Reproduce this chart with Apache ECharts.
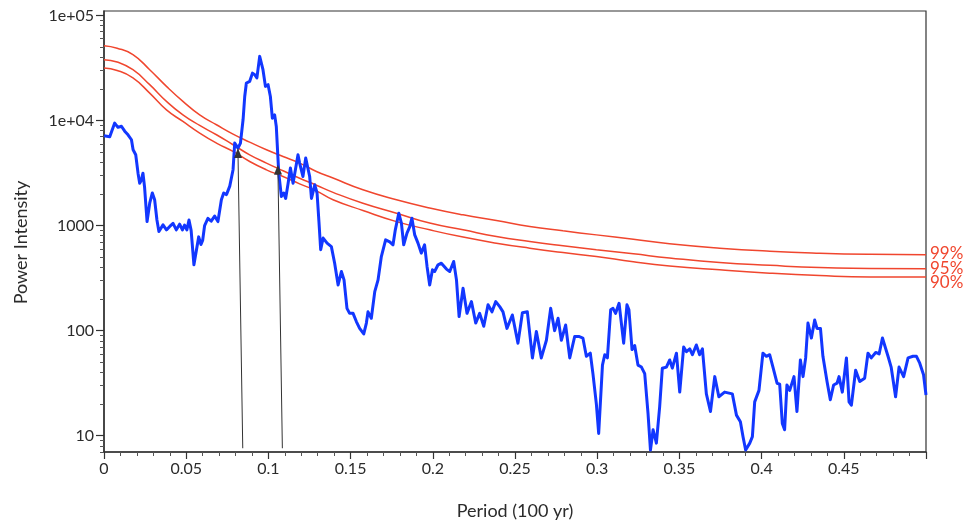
<!DOCTYPE html>
<html>
<head>
<meta charset="utf-8">
<title>Power spectrum</title>
<script src="https://cdn.jsdelivr.net/npm/echarts@6/dist/echarts.min.js"></script>
<style>
  html, body { margin: 0; padding: 0; background: #fff; }
  #chart { width: 966px; height: 529px; }
</style>
</head>
<body>
<div id="chart"></div>
<script>
// spectrum (blue line), x = period axis value, y = power
const freq = [
  0, 0.0035, 0.0065, 0.0085, 0.0106, 0.0126, 0.0146, 0.0167, 0.0177, 0.0193,
  0.0207, 0.0217, 0.0227, 0.0237, 0.0247, 0.0262, 0.0278, 0.0294, 0.0308, 0.0322,
  0.0334, 0.0359, 0.038, 0.040, 0.042, 0.044, 0.046, 0.0477, 0.049, 0.0504,
  0.0517, 0.053, 0.0547, 0.0576, 0.059, 0.060, 0.0612, 0.0632, 0.0652, 0.0673,
  0.0693, 0.0714, 0.0728, 0.0745, 0.0765, 0.0785, 0.0795, 0.0815, 0.083, 0.0846,
  0.0856, 0.0866, 0.0886, 0.0903, 0.0917, 0.093, 0.0947, 0.0953, 0.0967, 0.0982,
  0.0998, 0.1012, 0.1024, 0.1038, 0.1048, 0.1063, 0.1079, 0.1093, 0.1105, 0.112,
  0.1134, 0.115, 0.116, 0.118, 0.119, 0.121, 0.1227, 0.1235, 0.1251, 0.1262,
  0.1282, 0.1296, 0.1308, 0.1318, 0.1333, 0.1357, 0.1383, 0.1403, 0.1424, 0.1444,
  0.146, 0.1478, 0.1494, 0.1515, 0.1535, 0.1555, 0.158, 0.1596, 0.1606, 0.1626,
  0.1647, 0.1667, 0.1687, 0.1713, 0.1738, 0.1758, 0.1772, 0.1793, 0.1809, 0.1823,
  0.1843, 0.186, 0.1873, 0.189, 0.191, 0.193, 0.195, 0.1965, 0.1981, 0.1998,
  0.2011, 0.2032, 0.2052, 0.2083, 0.2103, 0.2127, 0.2144, 0.216, 0.2184, 0.2208,
  0.2235, 0.2261, 0.2285, 0.231, 0.2336, 0.236, 0.2383, 0.2407, 0.2427, 0.2451,
  0.2484, 0.2518, 0.2545, 0.2575, 0.2606, 0.263, 0.266, 0.2691, 0.2717, 0.2741,
  0.2762, 0.2782, 0.2808, 0.2833, 0.2863, 0.2888, 0.2913, 0.2934, 0.2958, 0.2974,
  0.2995, 0.3009, 0.3032, 0.3046, 0.3062, 0.3082, 0.3096, 0.3112, 0.3133, 0.3161,
  0.3181, 0.3193, 0.3212, 0.3228, 0.3248, 0.3269, 0.3289, 0.3309, 0.3324, 0.334,
  0.336, 0.338, 0.3396, 0.3421, 0.3441, 0.3457, 0.3482, 0.3502, 0.3526, 0.3543,
  0.3563, 0.3579, 0.3603, 0.3623, 0.364, 0.3664, 0.3689, 0.3715, 0.374, 0.3775,
  0.3822, 0.3847, 0.3871, 0.3887, 0.3903, 0.3928, 0.3944, 0.3958, 0.3984, 0.4008,
  0.4029, 0.4049, 0.4069, 0.4094, 0.411, 0.4126, 0.414, 0.4154, 0.4171, 0.4197,
  0.4215, 0.4236, 0.4252, 0.4268, 0.4282, 0.4303, 0.4323, 0.4337, 0.4358, 0.4373,
  0.4398, 0.4418, 0.4438, 0.4459, 0.4471, 0.4491, 0.4516, 0.4532, 0.4546, 0.4572,
  0.4597, 0.4627, 0.4647, 0.4667, 0.4694, 0.4715, 0.4735, 0.4769, 0.4788, 0.4815,
  0.4836, 0.4864, 0.4891, 0.4921, 0.4942, 0.4962, 0.4985, 0.5
];
const power = [
  7150, 7000, 9440, 8600, 8800, 7900, 7300, 6550, 5260, 4710,
  3150, 2530, 2700, 3150, 2300, 1090, 1630, 2040, 1760, 1130,
  877, 1015, 910, 980, 1050, 910, 1030, 910, 1010, 910,
  1130, 900, 423, 780, 660, 720, 1000, 1170, 1100, 1230,
  1090, 1760, 2040, 1970, 2370, 3400, 6090, 5450, 6090, 10200,
  16900, 22700, 23500, 28200, 27200, 25400, 40700, 42300, 30400, 21100,
  21900, 16900, 10500, 11300, 8770, 3150, 1890, 2040, 1810, 2530,
  3520, 2530, 2440, 4710, 3930, 2930, 4390, 4550, 2930, 1810,
  2440, 2040, 1055, 588, 760, 680, 630, 438, 272, 365,
  304, 163, 146, 146, 122, 105, 93, 118, 151, 131,
  235, 304, 507, 730, 700, 655, 910, 1310, 1055, 655,
  847, 977, 1175, 814, 680, 546, 655, 408, 272, 379,
  365, 423, 438, 385, 365, 455, 304, 136, 253, 146,
  189, 118, 146, 110, 176, 151, 189, 169, 151, 105,
  141, 76, 148, 151, 55, 98, 55, 81, 163, 100,
  131, 81, 113, 55, 88, 88, 85, 57, 61, 39,
  20, 10.5, 47, 59, 55, 158, 163, 146, 182, 76,
  176, 158, 66, 72, 47, 45, 39, 16.4, 7.3, 11.4,
  8.5, 18.9, 43.8, 45, 52.6, 44, 61, 26, 70, 63,
  67, 59, 73, 59, 67, 25, 17, 36.5, 23.5, 26,
  25, 15.7, 13.6, 9.8, 7.3, 8.5, 9.8, 21, 27, 61,
  57, 59, 45, 31.6, 31, 13.1, 11.4, 30.4, 27, 36.5,
  17, 52.6, 36.5, 55, 118, 85, 126, 105, 105, 57,
  32.8, 22, 30.4, 31.6, 36.5, 26, 55, 21, 19.5, 42,
  32.8, 35.3, 61, 55, 62, 60, 85, 57, 45, 23.5,
  45, 36.5, 55, 57, 57, 49, 38, 24.4
];

// red-noise confidence levels
const levelX = [0, 0.008, 0.0176, 0.0278, 0.038, 0.048, 0.0582, 0.0684, 0.0785, 0.0886,
  0.0988, 0.1089, 0.119, 0.1292, 0.1393, 0.1575, 0.1779, 0.1981, 0.2184, 0.2387,
  0.259, 0.2792, 0.2995, 0.322, 0.344, 0.3745, 0.405, 0.4353, 0.466, 0.5];
const level99 = [51400, 48700, 42300, 30400, 21100, 15200, 11300, 9100, 7410, 6220,
  5260, 4540, 3930, 3270, 2830, 2190, 1760, 1470, 1265, 1117,
  978, 890, 815, 740, 670, 609, 570, 546, 532, 526];
const level95 = [37900, 36000, 30400, 21900, 15200, 11300, 8960, 7310, 5870, 4710,
  3930, 3320, 2820, 2420, 2070, 1630, 1310, 1055, 910, 785,
  704, 641, 588, 538, 492, 445, 418, 398, 391, 387];
const level90 = [31600, 29900, 25400, 18200, 12600, 9780, 7580, 6090, 5070, 4070,
  3390, 2930, 2490, 2140, 1760, 1390, 1090, 910, 776, 680,
  609, 553, 507, 452, 413, 379, 352, 334, 324, 323];
const levelNames = ['99%', '95%', '90%'];

// arrows: [x from, y from, x to, y to]
const arrows = [
  [0.0844, 7.6, 0.0815, 4900],
  [0.1085, 7.6, 0.1058, 3400]
];

const yMajor = [10, 100, 1000, 10000, 100000];
const yMinor = [];
[1, 10, 100, 1000, 10000].forEach(d => {
  for (let k = 2; k <= 9; k++) yMinor.push(d * k);
});
yMinor.unshift(8, 9);

const font = 'Lato, "Open Sans", sans-serif';
const textColor = '#2b2b2b';
const redColor = '#f0462e';

const chart = echarts.init(document.getElementById('chart'));

function levelSeries(vals, name, offsetY) {
  return {
    name: name,
    type: 'line',
    data: levelX.map((x, i) => [x, vals[i]]),
    showSymbol: false,
    smooth: 0.5,
    silent: true,
    lineStyle: { color: redColor, width: 1.5 },
    endLabel: {
      show: true,
      formatter: name,
      color: redColor,
      fontFamily: font,
      fontSize: 17,
      distance: 4,
      offset: [0, offsetY]
    },
    z: 3
  };
}

const option = {
  backgroundColor: '#fff',
  animation: false,
  grid: {
    left: 104, right: 40, top: 11, bottom: 77,
    show: true, borderColor: '#333', borderWidth: 1.2
  },
  xAxis: {
    type: 'value',
    min: 0,
    max: 0.5,
    interval: 0.05,
    name: 'Period (100 yr)',
    nameLocation: 'middle',
    nameGap: 50,
    nameTextStyle: { fontFamily: font, fontSize: 18, color: textColor },
    axisLine: { lineStyle: { color: '#333', width: 1.5 } },
    axisTick: { length: 7, lineStyle: { color: '#333', width: 1.2 } },
    minorTick: { show: true, splitNumber: 5, length: 4, lineStyle: { color: '#555', width: 1 } },
    axisLabel: { fontFamily: font, fontSize: 16, color: textColor, margin: 9, showMaxLabel: false },
    splitLine: { show: false },
    minorSplitLine: { show: false }
  },
  yAxis: [
    {
      type: 'log',
      logBase: 10,
      min: 7,
      max: 110000,
      position: 'left',
      name: 'Power Intensity',
      nameLocation: 'middle',
      nameGap: 74,
      nameTextStyle: { fontFamily: font, fontSize: 18, color: textColor, padding: [0, 22, 0, 0] },
      axisLine: { show: true, lineStyle: { color: '#333', width: 1.5 } },
      axisTick: { show: true, length: 8, customValues: yMajor, lineStyle: { color: '#333', width: 1.2 } },
      axisLabel: {
        fontFamily: font, fontSize: 16, color: textColor, margin: 10,
        customValues: yMajor,
        formatter: v => (v >= 10000 ? '1e+0' + Math.round(Math.log10(v)) : String(Math.round(v)))
      },
      splitLine: { show: false }
    },
    {
      type: 'log',
      logBase: 10,
      min: 7,
      max: 110000,
      position: 'left',
      offset: 0,
      axisLine: { show: false },
      axisTick: { show: true, length: 4, customValues: yMinor, lineStyle: { color: '#555', width: 1 } },
      axisLabel: { show: false },
      splitLine: { show: false }
    }
  ],
  series: [
    levelSeries(level99, levelNames[0], -1),
    levelSeries(level95, levelNames[1], 0),
    levelSeries(level90, levelNames[2], 5),
    {
      name: 'spectrum',
      type: 'line',
      data: freq.map((f, i) => [f, power[i]]),
      showSymbol: false,
      silent: true,
      lineStyle: { color: '#1237ff', width: 3, join: 'round' },
      z: 4,
      markLine: {
        silent: true,
        symbol: ['none', 'triangle'],
        symbolSize: [8, 10],
        label: { show: false },
        lineStyle: { color: '#333', width: 1, type: 'solid' },
        emphasis: { disabled: true },
        data: arrows.map(a => [{ coord: [a[0], a[1]] }, { coord: [a[2], a[3]] }])
      }
    }
  ]
};

chart.setOption(option);
</script>
</body>
</html>
